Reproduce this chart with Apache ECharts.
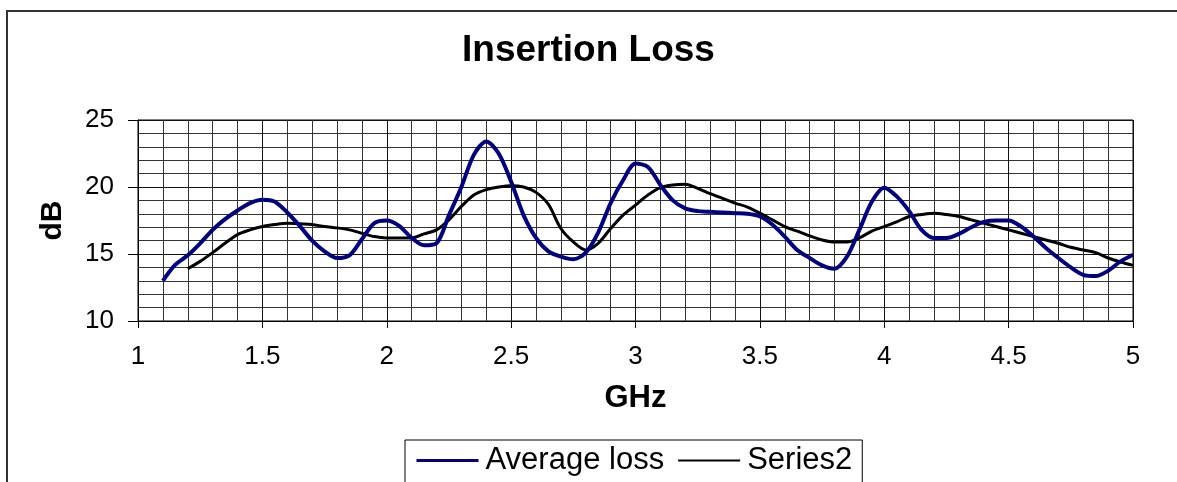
<!DOCTYPE html>
<html>
<head>
<meta charset="utf-8">
<script src="https://cdn.jsdelivr.net/npm/echarts@6/dist/echarts.min.js"></script>
<style>
html,body{margin:0;padding:0;background:#fff;}
#chart{width:1177px;height:482px;}
</style>
</head>
<body>
<div id="chart"></div>
<script>
const titleText = 'Insertion Loss';
const xName = 'GHz';
const yName = 'dB';
const seriesNames = ['Average loss', 'Series2'];

const avgX = [1.1,1.15,1.2,1.25,1.3,1.35,1.4,1.45,1.5,1.55,1.6,1.65,1.7,1.75,1.8,1.85,1.9,1.95,2.0,2.05,2.1,2.15,2.2,2.25,2.3,2.35,2.4,2.45,2.5,2.55,2.6,2.65,2.7,2.75,2.8,2.85,2.9,2.95,3.0,3.05,3.1,3.15,3.2,3.25,3.3,3.35,3.4,3.45,3.5,3.55,3.6,3.65,3.7,3.75,3.8,3.85,3.9,3.95,4.0,4.05,4.1,4.15,4.2,4.25,4.3,4.35,4.4,4.45,4.5,4.55,4.6,4.65,4.7,4.75,4.8,4.85,4.9,4.95,5.0];
const avgLoss = [13.0,14.2,14.9,15.8,16.8,17.6,18.25,18.8,19.05,18.9,18.1,17.1,16.0,15.2,14.7,14.9,16.1,17.3,17.5,17.1,16.2,15.65,15.8,17.9,20.0,22.4,23.4,22.5,20.4,17.9,16.2,15.2,14.8,14.6,15.1,16.6,18.8,20.5,21.75,21.5,20.15,19.0,18.4,18.2,18.15,18.1,18.05,18.0,17.8,17.2,16.3,15.3,14.7,14.15,13.9,14.8,16.8,18.9,19.95,19.3,18.2,16.8,16.2,16.2,16.5,17.0,17.4,17.5,17.5,17.05,16.3,15.45,14.7,14.0,13.45,13.35,13.75,14.45,14.95];

const s2X = [1.2,1.25,1.3,1.35,1.4,1.45,1.5,1.55,1.6,1.65,1.7,1.75,1.8,1.85,1.9,1.95,2.0,2.05,2.1,2.15,2.2,2.25,2.3,2.35,2.4,2.45,2.5,2.55,2.6,2.65,2.7,2.75,2.8,2.85,2.9,2.95,3.0,3.05,3.1,3.15,3.2,3.25,3.3,3.35,3.4,3.45,3.5,3.55,3.6,3.65,3.7,3.75,3.8,3.85,3.9,3.95,4.0,4.05,4.1,4.15,4.2,4.25,4.3,4.35,4.4,4.45,4.5,4.55,4.6,4.65,4.7,4.75,4.8,4.85,4.9,4.95,5.0];
const series2 = [13.9,14.45,15.1,15.8,16.45,16.8,17.05,17.2,17.3,17.25,17.2,17.05,16.95,16.8,16.55,16.3,16.2,16.2,16.2,16.5,16.8,17.55,18.55,19.4,19.8,20.0,20.1,20.0,19.6,18.7,16.9,15.9,15.3,15.8,16.9,17.9,18.65,19.4,19.95,20.15,20.2,19.9,19.5,19.15,18.8,18.5,18.05,17.55,17.05,16.7,16.35,16.05,15.9,15.9,16.2,16.7,17.05,17.4,17.8,17.95,18.05,17.95,17.8,17.55,17.3,17.05,16.8,16.55,16.3,16.05,15.8,15.5,15.3,15.1,14.7,14.4,14.15];

const FONT = 'Liberation Sans, Arial, sans-serif';
const chart = echarts.init(document.getElementById('chart'), null, {renderer:'canvas'});
chart.setOption({
  animation:false,
  backgroundColor:'#fff',
  title:{text:titleText, left:'center', top:27, textStyle:{fontFamily:FONT,fontSize:37,fontWeight:'bold',color:'#000'}},
  graphic:[{type:'rect', shape:{x:7,y:11,width:1200,height:500}, style:{fill:'none',stroke:'#333',lineWidth:2}, silent:true, z:-1}],
  grid:{left:138,right:44,top:120,bottom:161,show:true,borderColor:'#000',borderWidth:1},
  legend:{left:405, top:440, itemGap:13, itemWidth:62, itemHeight:14, padding:[5,10,20,10],
    borderColor:'#000', borderWidth:1, backgroundColor:'#fff',
    itemStyle:{opacity:0},
    textStyle:{fontFamily:FONT,fontSize:31,color:'#000',padding:[0,0,0,2]},
    data:[{name:seriesNames[0], lineStyle:{width:3}}, {name:seriesNames[1], lineStyle:{width:2}}]},
  xAxis:{type:'value', min:1, max:5, interval:0.5,
    name:xName, nameLocation:'middle', nameGap:62,
    nameTextStyle:{fontFamily:FONT,fontSize:31,fontWeight:'bold',color:'#000'},
    axisLine:{lineStyle:{color:'#000',width:1}},
    axisTick:{show:true,length:7,lineStyle:{color:'#000'}},
    axisLabel:{fontFamily:FONT,fontSize:26,color:'#000',margin:23},
    splitLine:{show:true,lineStyle:{color:'#111',width:1}},
    minorTick:{show:false,splitNumber:5},
    minorSplitLine:{show:true,lineStyle:{color:'#333',width:1}}},
  yAxis:{type:'value', min:10, max:25, interval:5,
    name:yName, nameLocation:'middle', nameGap:70, nameRotate:90,
    nameTextStyle:{fontFamily:FONT,fontSize:30,fontWeight:'bold',color:'#000'},
    axisLine:{show:true,lineStyle:{color:'#000',width:1}},
    axisTick:{show:true,length:10,lineStyle:{color:'#000'}},
    axisLabel:{fontFamily:FONT,fontSize:26,color:'#000',margin:24},
    splitLine:{show:true,lineStyle:{color:'#111',width:1}},
    minorTick:{show:false,splitNumber:5},
    minorSplitLine:{show:true,lineStyle:{color:'#333',width:1}}},
  series:[
    {name:seriesNames[0], type:'line', data:avgX.map((x,i)=>[x,avgLoss[i]]), smooth:0.3, symbol:'none',
      lineStyle:{color:'#000080',width:4}, itemStyle:{color:'#000080'}, z:3},
    {name:seriesNames[1], type:'line', data:s2X.map((x,i)=>[x,series2[i]]), smooth:0.3, symbol:'none',
      lineStyle:{color:'#000',width:3}, itemStyle:{color:'#000'}, z:2}
  ]
});
</script>
</body>
</html>
